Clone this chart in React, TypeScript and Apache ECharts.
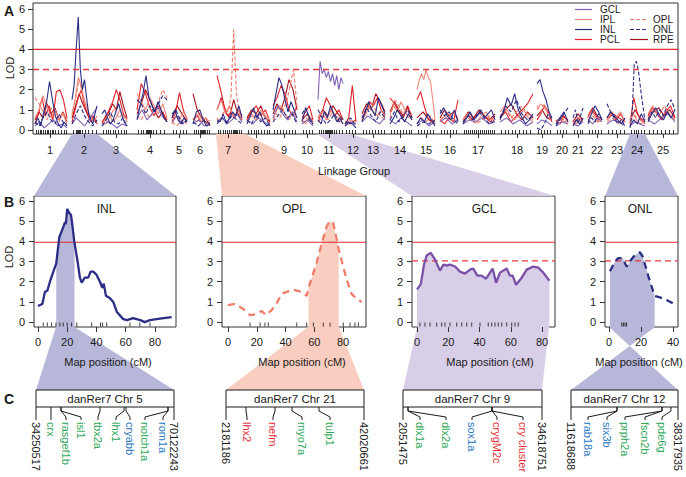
import React, { useEffect, useRef } from "react";
import * as echarts from "echarts";

const FONT = '"Liberation Sans", Arial, Helvetica, sans-serif';

// ---------------- Panel A data ----------------
const LG_NAMES = ["1","2","3","4","5","6","7","8","9","10","11","12","13","14","15","16","17","18","19","20","21","22","23","24","25"];
// cumulative map-axis extents of each linkage group
const LG_START = [35,72,102,137,172,193,217,247,273,302,318,345,362,390,417,440,463,500,537,556,573,588,607,630,648];
const LG_END = [67,97,127,167,187,210,242,270,297,313,343,356,385,412,435,458,495,533,552,568,583,602,625,645,675];
const LG_CENTER = [50,84,116,150,179,200,228,256,284,307,329,353,373,400,426,450,478,517,542,562,578,597,617,637,663];
const A_MARKERS = [36,38,40,41,43,45,47,48,50,52,53,55,58,61,64,66,73,76,77,78,79,80,82,85,88,92,96,103,106,108,110,113,115,118,121,124,126,138,141,143,146,147,148,149,150,151,153,156,160,164,173,176,180,183,186,194,196,198,200,201,202,203,204,205,207,209,218,220,223,225,227,229,231,233,234,235,236,237,239,241,248,251,254,256,258,261,264,267,269,274,277,280,283,286,289,292,295,303,306,309,312,319,321,323,325,326,327,328,329,330,331,332,334,336,339,342,346,349,352,355,363,366,369,372,375,378,381,384,391,394,397,400,403,406,409,411,418,421,424,427,430,433,441,444,447,450,453,456,464,466,468,470,472,474,476,478,480,482,484,486,488,490,492,494,501,505,508,512,515,519,523,526,530,538,541,544,547,550,557,560,563,566,574,577,580,582,589,592,595,598,601,608,612,616,620,624,631,634,636,638,641,644,649,653,657,661,665,669,673];
const A_THRESHOLD_SOLID = 4;
const A_THRESHOLD_DASHED = 3;

const INL_A = [
  [0.3,0.6,0.2,0.9,1.4,2.4,1.5,0.7,0.3,0.1,0.4,0.2],
  [1.5,2.2,4.0,5.6,3.0,2.0,2.5,1.6,0.8,0.5,0.3,0.8,1.2],
  [0.8,1.0,0.6,0.3,0.5,0.9,1.3,0.8,0.4,0.2],
  [0.5,1.2,1.8,2.7,1.6,1.2,0.9,1.4,1.0,0.6,0.4],
  [0.6,1.0,0.5,0.3,0.6,0.4],
  [0.3,0.9,1.0,0.5,0.2,0.3],
  [0.5,0.4,0.8,0.3,0.6,0.9,0.7,1.2,0.6],
  [0.3,0.7,1.1,0.6,0.9,0.4,0.2,0.3],
  [1.0,1.8,2.6,2.2,1.5,0.9,1.4,1.0,0.6],
  [0.4,1.1,0.6,0.3],
  [0.5,0.3,0.9,0.6,1.2,0.8,0.4,0.6,0.3],
  [0.2,0.4,0.3,0.1],
  [0.4,0.9,1.4,1.0,0.7,1.6,1.2,0.8],
  [0.3,0.6,1.0,0.7,0.4,0.8,0.5],
  [0.3,0.6,0.4,0.8,0.5,0.2],
  [0.8,1.1,0.7,0.5,1.0,0.4],
  [0.3,0.6,0.9,0.5,0.7,1.0,0.6,0.8,1.0,0.5],
  [0.5,0.9,1.6,1.2,1.8,1.0,0.6,0.3,0.5,0.8],
  [2.3,2.5,1.9,1.5,0.9,0.6],
  [0.3,0.6,0.9,0.4],
  [0.2,0.5,0.3,0.6],
  [0.4,0.8,1.2,0.9,0.5],
  [0.6,0.9,0.7,0.5,0.3,0.6],
  [0.2,0.5,0.3,0.8,0.4],
  [0.4,0.8,1.1,0.7,0.5,0.9,0.6,1.0],
];
const ONL_A = [
  [0.4,0.2,0.6,0.9,0.5,0.3,0.8,0.4,0.2],
  [0.3,0.8,1.2,0.7,0.4,0.2,0.5],
  [0.2,0.5,0.9,0.4,0.3,0.6,0.2],
  [1.5,1.3,0.8,1.2,0.9,1.3,1.7,1.5],
  [0.8,1.0,0.6,0.3,0.5],
  [0.4,0.2,0.5,0.3],
  [0.3,0.6,0.4,0.7,0.5,0.3],
  [0.5,0.3,0.8,0.4,0.6,0.2],
  [0.4,0.7,1.0,0.6,0.8,0.3],
  [0.8,1.1,0.5,0.3],
  [1.0,0.6,0.3,0.5,0.8,0.4,0.6],
  [0.3,0.6,0.2],
  [0.6,1.1,0.7,0.4,0.9,0.6],
  [0.5,0.9,0.4,0.7,1.0,0.6],
  [0.2,0.4,0.3,0.5],
  [1.0,0.7,0.9,0.5,0.3],
  [0.4,0.7,0.5,0.9,0.6,0.3,0.5],
  [0.6,1.2,0.9,1.5,0.8,0.5,0.7],
  [0.1,0.0,0.3,0.8,0.5],
  [0.2,0.5,0.8,1.1],
  [0.6,1.0,0.3,0.7,1.1],
  [0.3,0.6,0.4,0.8,0.5],
  [1.3,0.9,0.6,0.3,0.5,0.2],
  [0.1,0.8,3.3,3.4,2.9,2.0,1.2,0.5],
  [0.5,0.9,0.6,1.0,0.7,1.2,1.5,1.0],
];
const IPL_A = [
  [0.6,1.0,1.7,1.2,0.6,1.0,0.5,0.8,0.3],
  [0.8,1.5,2.6,2.2,1.4,1.0,0.6,0.4,0.7],
  [0.3,0.5,0.8,0.4,0.6,1.0,0.7,0.5],
  [1.8,1.4,1.0,1.6,1.2,0.8,1.3,0.6],
  [0.3,0.7,0.5,0.9,0.6],
  [0.5,0.8,0.4,0.6,0.3],
  [1.0,1.5,0.8,1.2,0.6,1.0,0.5],
  [0.4,0.8,0.6,1.0,0.7,0.5],
  [0.6,1.0,1.2,0.8,0.5,0.9,0.6],
  [0.5,0.3,0.6,0.4],
  [0.6,0.9,0.5,1.0,0.7,0.4,0.6],
  [0.3,0.5,0.4],
  [0.5,0.8,1.2,0.9,0.7,1.0,0.6],
  [0.8,1.2,0.9,1.4,1.0,0.6,0.8],
  [2.0,2.5,2.8,2.5,3.0,2.6,2.4,1.5,0.5],
  [0.4,0.7,0.5,0.9,0.6],
  [0.5,0.8,0.6,0.4,0.7,0.9,0.5,0.6],
  [0.9,1.2,0.8,0.5,0.7,1.0,0.6,0.4],
  [1.0,1.3,1.1,0.8,0.6],
  [0.3,0.6,0.4,0.5],
  [0.4,0.3,0.6,0.4],
  [0.6,0.9,0.7,0.4,0.5],
  [0.5,0.8,0.6,0.9,0.4],
  [0.5,0.8,0.4,0.3,0.6],
  [0.8,1.2,0.9,0.6,1.0,0.7,0.5],
];
const OPL_A = [
  [1.6,1.3,0.9,0.5,1.1,0.7,0.4,0.9,0.5],
  [0.7,1.6,2.5,1.8,1.2,0.7,0.5,0.3],
  [0.5,0.3,0.7,1.1,0.6,0.8,0.4],
  [0.7,0.5,0.9,0.6,1.0,1.4,2.0,1.6],
  [0.4,0.2,0.5,0.3],
  [0.6,0.4,0.8,0.3,0.5],
  [0.6,0.4,0.8,1.0,0.9,1.6,5.0,1.8,0.9,0.5],
  [0.4,0.7,0.5,0.9,0.6,0.3],
  [0.5,0.8,0.6,1.0,1.4,2.2,3.0,1.2],
  [0.3,0.6,0.4],
  [0.4,0.7,0.5,0.9,0.6,0.3],
  [0.2,0.4,0.3],
  [0.5,0.9,1.3,1.0,0.7,0.5],
  [0.6,1.5,1.2,0.8,1.0,0.5],
  [0.3,0.6,0.4,0.7,0.3],
  [0.5,0.8,0.6,0.4],
  [0.4,0.6,0.3,0.5,0.7,0.4],
  [0.7,1.0,0.6,0.9,1.2,0.8,0.5],
  [1.2,0.9,1.3,0.7,0.4],
  [0.4,0.6,0.3],
  [0.3,0.5,0.4],
  [0.5,0.7,0.4,0.6],
  [0.4,0.6,0.3,0.5],
  [0.4,0.7,0.5,0.3],
  [0.6,1.0,0.7,1.2,0.8,0.5],
];
const PCL_A = [
  [0.3,0.8,1.6,0.7,1.2,0.5,1.9,2.0,1.5,0.6],
  [0.4,1.0,1.6,2.0,1.2,0.8,0.4,0.6,0.3],
  [0.4,0.6,1.0,1.4,2.0,1.5,0.8,0.5],
  [1.0,2.3,1.8,1.1,0.7,1.2,0.8,0.5],
  [0.4,0.9,1.85,1.0,0.5],
  [0.5,0.7,0.4,0.6,0.2],
  [2.7,2.0,1.2,0.7,0.9,0.6,1.0,0.7],
  [0.5,0.9,1.2,0.7,1.0,0.4],
  [1.2,1.6,2.2,1.8,1.0,0.7,1.2],
  [0.6,0.9,1.2,0.5],
  [0.4,0.9,1.6,1.2,0.7,1.0,0.5],
  [0.3,0.6,2.2,0.4],
  [0.6,1.0,1.4,1.2,1.6,1.0,0.7],
  [1.6,1.3,0.9,0.6,1.1,0.7],
  [1.5,1.9,1.2,0.6,0.4,0.3],
  [0.5,0.3,0.6,0.4,1.5],
  [0.4,0.8,0.5,0.7,0.9,0.6,0.4,0.7],
  [0.6,0.9,0.4,0.7,1.0,1.3,1.8],
  [0.5,0.8,1.2,0.9,0.4],
  [0.5,0.3,0.7,0.4],
  [0.3,0.6,0.5],
  [0.7,1.0,0.8,0.5,0.6],
  [0.6,0.9,0.5,0.8,0.4],
  [0.3,1.6,0.8,0.5,0.3],
  [0.7,1.1,0.8,0.5,0.9,1.2,0.6],
];
const RPE_A = [
  [0.5,0.9,0.6,1.3,0.8,1.1,0.5,0.9,0.4],
  [0.6,1.2,1.8,1.3,0.9,0.5,0.7,0.3],
  [0.3,0.7,0.9,1.3,1.0,1.9,1.2,0.6],
  [0.8,1.3,2.0,1.5,1.0,0.6,0.9,0.4],
  [0.6,1.2,0.8,0.4],
  [1.8,1.0,0.6,0.4,0.3],
  [1.0,1.6,0.9,0.6,1.5,0.8,0.5],
  [0.6,1.0,0.8,1.2,0.6,0.4],
  [0.8,1.3,1.0,1.6,2.5,2.0,1.0],
  [0.5,0.8,0.4],
  [0.6,1.0,0.7,1.2,0.8,0.5],
  [0.4,0.3,0.5],
  [0.8,1.3,1.0,1.8,1.4,0.9],
  [0.9,1.4,1.0,0.7,1.2,0.6],
  [0.6,0.9,0.5,0.4],
  [0.6,1.0,0.7,0.9,0.5],
  [0.5,0.9,0.6,1.0,0.7,0.5,0.8],
  [0.6,1.0,1.3,0.8,0.5,0.9,0.6],
  [0.7,1.0,0.6,0.5],
  [0.4,0.7,0.5],
  [0.4,0.8,0.5],
  [0.6,1.1,0.7,0.5],
  [0.5,0.8,0.6,0.4],
  [0.5,1.0,0.6,0.4],
  [0.6,0.9,1.1,0.7,1.0,0.6],
];
const GCL_A = [
  [0.2,0.4,0.1,0.3,0.5,0.2,0.3,0.1],
  [0.3,0.6,0.4,0.2,0.5,0.8,1.1],
  [0.2,0.4,0.3,0.1,0.3,0.2],
  [0.6,1.0,0.5,0.8,1.2,0.7,0.4],
  [0.4,0.7,0.3,0.5],
  [0.3,0.5,0.2,0.3],
  [0.4,0.6,0.3,0.5,0.8,0.4],
  [0.5,0.3,0.6,0.4,0.2],
  [0.6,1.2,0.8,0.5,0.9,0.4],
  [0.3,0.5,0.2],
  [1.5,3.4,2.8,3.0,2.6,2.9,2.4,2.8,2.2,2.7,2.0,2.6,2.3],
  [0.2,0.4,0.3],
  [0.4,0.7,0.5,0.3,0.6],
  [0.5,0.3,0.6,0.4,0.2],
  [0.3,0.5,0.2,0.4],
  [0.4,0.6,0.3,0.5],
  [0.3,0.5,0.4,0.6,0.3,0.4],
  [0.4,0.6,0.3,0.5,0.2,0.4],
  [0.3,0.5,0.4,0.2],
  [0.2,0.4,0.3],
  [0.3,0.2,0.4],
  [0.5,0.3,0.6,0.4],
  [0.3,0.5,0.4,0.2],
  [0.2,0.4,0.3,0.2],
  [0.5,0.3,0.6,0.8,0.4],
];

// ---------------- Panel B data ----------------
const INL_CM = [0,3,4.8,6.4,8.2,11,12.5,14.6,17.3,18.5,19.1,20,21.4,22.6,23.7,25,26.9,28.7,29.9,32,34.4,36,37.8,40,42.4,44,45,46.5,49,51.5,54,58.3,61,65,70,73,76.6,83.4,91.4];
const INL_LOD = [0.8,0.9,1.5,1.55,2.0,2.6,2.9,4.2,4.7,4.95,4.85,5.6,5.4,5.3,4.7,3.9,3.1,2.2,1.95,2.2,2.2,2.5,2.5,2.35,2.0,1.7,1.9,1.3,1.2,1.0,0.5,0.15,0.1,0.2,0.1,0.0,0.1,0.17,0.25];
const INL_BAND = [12.5, 25];
const INL_RUG = [3.6,6.4,9.3,12.3,15,17.3,20,23,26.5,36.7,42.8,44.2,47,62.9,69.7,76.6];

const OPL_CM = [0,4.9,10.6,15.3,20,23.4,26.4,30.4,33.9,37.4,40.8,45.4,51.3,54.7,56,61.7,65.2,68.7,71,73.2,75.6,77,79,82.6,86,89.5,93];
const OPL_LOD = [0.84,0.9,0.65,0.35,0.4,0.55,0.35,0.6,0.95,1.4,1.5,1.6,1.5,1.3,1.7,2.95,3.9,4.75,5.0,4.9,4.1,3.6,3.05,2.1,1.4,1.15,1.0];
const OPL_BAND = [56, 77];
const OPL_RUG = [15.3,22.3,25.7,28,47.8,54.7,59.4,66.3,71,80.2,84.9,88.3,90.7];

const GCL_CM = [0,2.4,4.5,6.2,8.8,11.5,14.7,16.9,19,21.1,24.3,27.5,30.7,33.9,36,38.6,41.4,44.2,46.3,48.4,50.6,53.1,57.4,59.5,61.2,63.4,67,70.2,74.4,77.6,80.8,84.7];
const GCL_LOD = [1.62,1.87,2.85,3.3,3.43,3.1,2.55,2.85,2.8,2.85,2.75,2.5,2.4,2.6,2.65,2.3,2.3,2.15,2.4,2.65,1.95,2.45,2.65,2.3,2.3,1.85,2.2,2.6,2.75,2.7,2.45,2.05];
const GCL_BAND = [0, 85];
const GCL_RUG = [1.9,5.1,8.3,12.6,15.8,17.9,21.1,25.4,28.6,31.8,35,40.3,45.6,47.8,49.9,52,54.2,57.4,60.6,62.7,64.8];

const ONL_CM = [0.6,3.75,5.8,8.5,11,13.5,16.25,19.4,21,24.6,28.5,30.8,36,41.9];
const ONL_LOD = [2.52,3.0,3.17,3.17,2.75,3.05,3.33,3.45,3.25,2.27,1.3,1.25,1.1,0.85];
const ONL_BAND = [0.6, 28.5];
const ONL_RUG = [8,9,10,11];

const B_THRESHOLD_SOLID = 3.95;
const B_THRESHOLD_DASHED = 3.03;
const LOD_TICKS = [0,1,2,3,4,5,6];
const CM_TICKS = [0,20,40,60,80];
const CM_TICKS_ONL = [0,20,40];

// ---------------- Panel C data ----------------
const C_TITLES = ["danRer7 Chr 5", "danRer7 Chr 21", "danRer7 Chr 9", "danRer7 Chr 12"];
const C_STARTS = ["34250517", "2181186", "2051475", "11618688"];
const C_ENDS = ["70122243", "42020661", "34618751", "38317935"];
const C_GENES_INL = ["crx","rasgef1b","isl1","tbx2a","lhx1","cryabb","notch1a","rom1a"];
const C_CLASS_INL = ["g","g","g","g","g","b","g","b"];
const C_GENES_OPL = ["lhx2","nefm","myo7a","tulp1"];
const C_CLASS_OPL = ["r","r","g","g"];
const C_GENES_GCL = ["dlx1a","dlx2a","sox1a","crygM2c","cry cluster"];
const C_CLASS_GCL = ["g","g","b","r","r"];
const C_GENES_ONL = ["rab18a","six3b","prph2a","fscn2b","pde6g"];
const C_CLASS_ONL = ["b","b","g","g","g"];

// ---------------- styles & layout ----------------
const CLASS_COLOR: Record<string, string> = { g: "#2fa85a", b: "#2a78c2", r: "#e52f36" };
const COL = {
  GCL: "#8262b4", IPL: "#f3897c", INL: "#2b2e84", PCL: "#e3222a",
  OPL: "#f07d6a", ONL: "#2b2e84", RPE: "#a3141f",
};
const THR_SOLID = "#e2262d";
const THR_DASHED = "#e8393e";
const BAND_BLUE = "#b7b7da";
const BAND_SALMON = "#f9cdbf";
const BAND_LAV = "#d9cee7";

const C_LAYOUT = [
  { x0: 36, x1: 174, anchor: [51,61,61,100,124,126,168,168], label: [51,66,81,98,116,130,145,163] },
  { x0: 226, x1: 364, anchor: [246,275,292,319], label: [247,273,302,330] },
  { x0: 403, x1: 542, anchor: [408,408,492,492,492], label: [420,446,472,497,523] },
  { x0: 571, x1: 678, anchor: [617,617,662,662,671], label: [588,607,625,645,662] },
];

function buildA(lod: number[][]) {
  const out: any[] = [];
  lod.forEach((vals, i) => {
    const s = LG_START[i], e = LG_END[i], n = vals.length;
    vals.forEach((v, j) => out.push([s + ((e - s) * j) / (n - 1), v]));
    out.push(["-", "-"]);
  });
  return out;
}
function pairs(xs: number[], ys: number[]) {
  return xs.map((x, i) => [x, ys[i]]);
}
function band(xs: number[], ys: number[], r: number[]) {
  return pairs(xs, ys).filter((p) => p[0] >= r[0] && p[0] <= r[1]);
}

function txt(x: number, y: number, text: string, o: any = {}) {
  return {
    type: "text", x, y, silent: true, z: 20, rotation: o.rotation || 0,
    style: {
      text, fill: o.fill || "#1a1a1a", fontSize: o.size || 11, fontFamily: FONT,
      fontWeight: o.weight || "normal", align: o.align || "center", verticalAlign: o.va || "middle",
    },
  };
}
function poly(points: number[][], fill: string) {
  return { type: "polygon", silent: true, z: 0, shape: { points }, style: { fill } };
}
function seg(points: number[][], color = "#1a1a1a", width = 1, dash?: number[]) {
  return { type: "polyline", silent: true, z: 15, shape: { points }, style: { stroke: color, lineWidth: width, fill: null, lineDash: dash } };
}

const X_RANGES = [[33, 678], [-2.7, 94.4], [-4.2, 96], [-3.2, 88.3], [-2.5, 43.1]];

// threshold drawn as a 2-point line across the whole axis range
function thresholdSeries(g: number, y: number, dashed: boolean) {
  const r = X_RANGES[g];
  return {
    type: "line", xAxisIndex: g, yAxisIndex: g, silent: true, z: 3.5, symbol: "none",
    data: [[r[0], y], [r[1], y]],
    lineStyle: dashed
      ? { color: THR_DASHED, width: 1.3, type: [6, 4] }
      : { color: THR_SOLID, width: 1.1, type: "solid" },
  };
}

function buildOption() {
  const axisLabelBase = { fontSize: 11, color: "#1a1a1a", fontFamily: FONT };
  const tickStyle = { color: "#333", width: 1 };

  const grids = [
    { left: 33, top: 3, width: 645, height: 131 },
    { left: 34, top: 196, width: 142, height: 131 },
    { left: 222, top: 196, width: 144, height: 131 },
    { left: 412, top: 196, width: 143, height: 131 },
    { left: 605, top: 196, width: 73, height: 131 },
  ].map((g) => ({ ...g, show: true, borderColor: "#333", borderWidth: 1, backgroundColor: "transparent", containLabel: false }));

  const xTicks = [LG_CENTER, CM_TICKS, CM_TICKS, CM_TICKS, CM_TICKS_ONL];
  const xAxis = X_RANGES.map((r, i) => ({
    gridIndex: i, type: "value", min: r[0], max: r[1], z: 5,
    axisLine: { show: false, onZero: false },
    splitLine: { show: false },
    axisTick: { show: true, length: i === 0 ? 4 : 5, customValues: xTicks[i], lineStyle: tickStyle },
    axisLabel: {
      ...axisLabelBase, margin: i === 0 ? 10 : 9, customValues: xTicks[i],
      formatter: i === 0 ? (v: number) => LG_NAMES[LG_CENTER.indexOf(v)] ?? "" : (v: number) => String(v),
    },
  }));
  const yAxis = X_RANGES.map((_, i) => ({
    gridIndex: i, type: "value", min: i === 0 ? -0.2 : -0.24, max: i === 0 ? 6.3 : 6.24, z: 5,
    axisLine: { show: false, onZero: false },
    splitLine: { show: false },
    axisTick: { show: true, length: 5, customValues: LOD_TICKS, lineStyle: tickStyle },
    axisLabel: { ...axisLabelBase, margin: i === 0 ? 8 : 9, customValues: LOD_TICKS, formatter: (v: number) => String(v) },
  }));

  const series: any[] = [];
  // Panel A
  const aSeries = [
    { name: "RPE", color: COL.RPE, dash: false, lod: RPE_A },
    { name: "PCL", color: COL.PCL, dash: false, lod: PCL_A },
    { name: "IPL", color: COL.IPL, dash: false, lod: IPL_A },
    { name: "OPL", color: COL.OPL, dash: true, lod: OPL_A },
    { name: "GCL", color: COL.GCL, dash: false, lod: GCL_A },
    { name: "ONL", color: COL.ONL, dash: true, lod: ONL_A },
    { name: "INL", color: COL.INL, dash: false, lod: INL_A },
  ];
  aSeries.forEach((s, k) => {
    series.push({
      type: "line", name: s.name, xAxisIndex: 0, yAxisIndex: 0, data: buildA(s.lod),
      symbol: "none", connectNulls: false, silent: true, z: 2 + k * 0.1,
      lineStyle: { color: s.color, width: 1.1, type: s.dash ? [4, 2] : "solid" },
    });
  });
  series.push({
    type: "scatter", xAxisIndex: 0, yAxisIndex: 0, silent: true, z: 3,
    symbol: "rect", symbolSize: [1, 4], symbolOffset: [0.5, 0], itemStyle: { color: "#000" },
    data: A_MARKERS.map((m) => [m, -0.1]),
  });
  series.push(thresholdSeries(0, A_THRESHOLD_SOLID, false));
  series.push(thresholdSeries(0, A_THRESHOLD_DASHED, true));

  // Panel B
  const bPanels = [
    { cm: INL_CM, lod: INL_LOD, band: INL_BAND, rug: INL_RUG, color: COL.INL, dash: false, bandColor: BAND_BLUE, dashedThr: false },
    { cm: OPL_CM, lod: OPL_LOD, band: OPL_BAND, rug: OPL_RUG, color: COL.OPL, dash: true, bandColor: BAND_SALMON, dashedThr: false },
    { cm: GCL_CM, lod: GCL_LOD, band: GCL_BAND, rug: GCL_RUG, color: "#7a50a8", dash: false, bandColor: BAND_LAV, dashedThr: true },
    { cm: ONL_CM, lod: ONL_LOD, band: ONL_BAND, rug: ONL_RUG, color: COL.ONL, dash: true, bandColor: BAND_BLUE, dashedThr: true },
  ];
  bPanels.forEach((p, i) => {
    const g = i + 1;
    series.push({
      type: "line", xAxisIndex: g, yAxisIndex: g, data: band(p.cm, p.lod, p.band),
      symbol: "none", silent: true, z: 1, lineStyle: { opacity: 0, width: 0 },
      areaStyle: { color: p.bandColor, opacity: 1, origin: "start" },
    });
    series.push({
      type: "line", xAxisIndex: g, yAxisIndex: g, data: pairs(p.cm, p.lod),
      symbol: "none", silent: true, z: 4,
      lineStyle: { color: p.color, width: 2.3, type: p.dash ? [7, 5] : "solid" },
    });
    series.push({
      type: "scatter", xAxisIndex: g, yAxisIndex: g, silent: true, z: 3,
      symbol: "rect", symbolSize: [1, 4], itemStyle: { color: "#111" },
      data: p.rug.map((m) => [m, -0.12]),
    });
    series.push(thresholdSeries(g, B_THRESHOLD_SOLID, false));
    if (p.dashedThr) series.push(thresholdSeries(g, B_THRESHOLD_DASHED, true));
  });

  // ---------------- graphics ----------------
  const graphic: any[] = [];
  // A -> B connectors
  graphic.push(poly([[72, 134], [97, 134], [176, 196], [34, 196]], BAND_BLUE));
  graphic.push(poly([[216, 134], [245, 134], [366, 196], [222, 196]], BAND_SALMON));
  graphic.push(poly([[317, 134], [350, 134], [555, 196], [412, 196]], BAND_LAV));
  graphic.push(poly([[630, 134], [645, 134], [678, 196], [605, 196]], BAND_BLUE));
  // B -> C connectors
  graphic.push(poly([[56, 327], [74.5, 327], [174, 390], [36, 390]], BAND_BLUE));
  graphic.push(poly([[308, 327], [339, 327], [364, 390], [226, 390]], BAND_SALMON));
  graphic.push(poly([[417, 327], [549, 327], [542, 390], [403, 390]], BAND_LAV));
  graphic.push(poly([[609, 327], [655, 327], [571, 390], [678, 390]], BAND_BLUE));

  // panel letters and axis titles
  graphic.push(txt(4, 11, "A", { size: 14, weight: "bold", align: "left" }));
  graphic.push(txt(4, 202, "B", { size: 14, weight: "bold", align: "left" }));
  graphic.push(txt(4, 399, "C", { size: 14, weight: "bold", align: "left" }));
  graphic.push(txt(10, 68, "LOD", { rotation: Math.PI / 2 }));
  graphic.push(txt(9, 257, "LOD", { rotation: Math.PI / 2 }));
  graphic.push(txt(354, 171, "Linkage Group"));
  [108, 302, 490, 639].forEach((x) => graphic.push(txt(x, 362, "Map position (cM)")));
  [["INL", 106], ["OPL", 294], ["GCL", 484], ["ONL", 640]].forEach(([t, x]) =>
    graphic.push(txt(x as number, 209, t as string, { size: 12 }))
  );

  // legend
  const legL: any[] = [["GCL", COL.GCL, 9.5], ["IPL", COL.IPL, 19.5], ["INL", COL.INL, 29.5], ["PCL", COL.PCL, 39.5]];
  legL.forEach(([n, c, y]) => {
    graphic.push(seg([[575, y], [592, y]], c, 1.2));
    graphic.push(txt(600, y, n, { align: "left", size: 10 }));
  });
  const legR: any[] = [["OPL", COL.OPL, 19.5, true], ["ONL", COL.ONL, 29.5, true], ["RPE", COL.RPE, 39.5, false]];
  legR.forEach(([n, c, y, d]) => {
    graphic.push(seg([[630, y], [648, y]], c, 1.2, d ? [4, 2] : undefined));
    graphic.push(txt(653, y, n, { align: "left", size: 10 }));
  });

  // panel C
  const genes = [C_GENES_INL, C_GENES_OPL, C_GENES_GCL, C_GENES_ONL];
  const classes = [C_CLASS_INL, C_CLASS_OPL, C_CLASS_GCL, C_CLASS_ONL];
  C_LAYOUT.forEach((L, i) => {
    graphic.push({
      type: "rect", silent: true, z: 14,
      shape: { x: L.x0, y: 390, width: L.x1 - L.x0, height: 17 },
      style: { fill: "#fff", stroke: "#1a1a1a", lineWidth: 1 },
    });
    graphic.push(txt((L.x0 + L.x1) / 2, 399, C_TITLES[i], { size: 11.5 }));
    graphic.push(seg([[L.x0, 407], [L.x0, 420]]));
    graphic.push(seg([[L.x1, 407], [L.x1, 420]]));
    graphic.push(txt(L.x0, 422, C_STARTS[i], { rotation: -Math.PI / 2, align: "left" }));
    graphic.push(txt(L.x1, 422, C_ENDS[i], { rotation: -Math.PI / 2, align: "left" }));
    genes[i].forEach((gname, j) => {
      const xa = L.anchor[j], xl = L.label[j];
      graphic.push(seg([[xa, 407], [xa, 411], [xl, 417], [xl, 420]]));
      graphic.push(txt(xl, 422, gname, { rotation: -Math.PI / 2, align: "left", fill: CLASS_COLOR[classes[i][j]] }));
    });
  });

  return {
    animation: false,
    backgroundColor: "#fff",
    textStyle: { fontFamily: FONT },
    grid: grids,
    xAxis,
    yAxis,
    series,
    graphic: { elements: graphic },
  };
}

export default function App() {
  const ref = useRef<HTMLDivElement>(null);
  useEffect(() => {
    if (!ref.current) return;
    const chart = echarts.init(ref.current, null, { renderer: "svg" });
    chart.setOption(buildOption() as any);
    return () => chart.dispose();
  }, []);
  return (
    <div
      ref={ref}
      style={{ position: "fixed", left: 0, top: 0, width: 686, height: 477, background: "#fff" }}
    />
  );
}
